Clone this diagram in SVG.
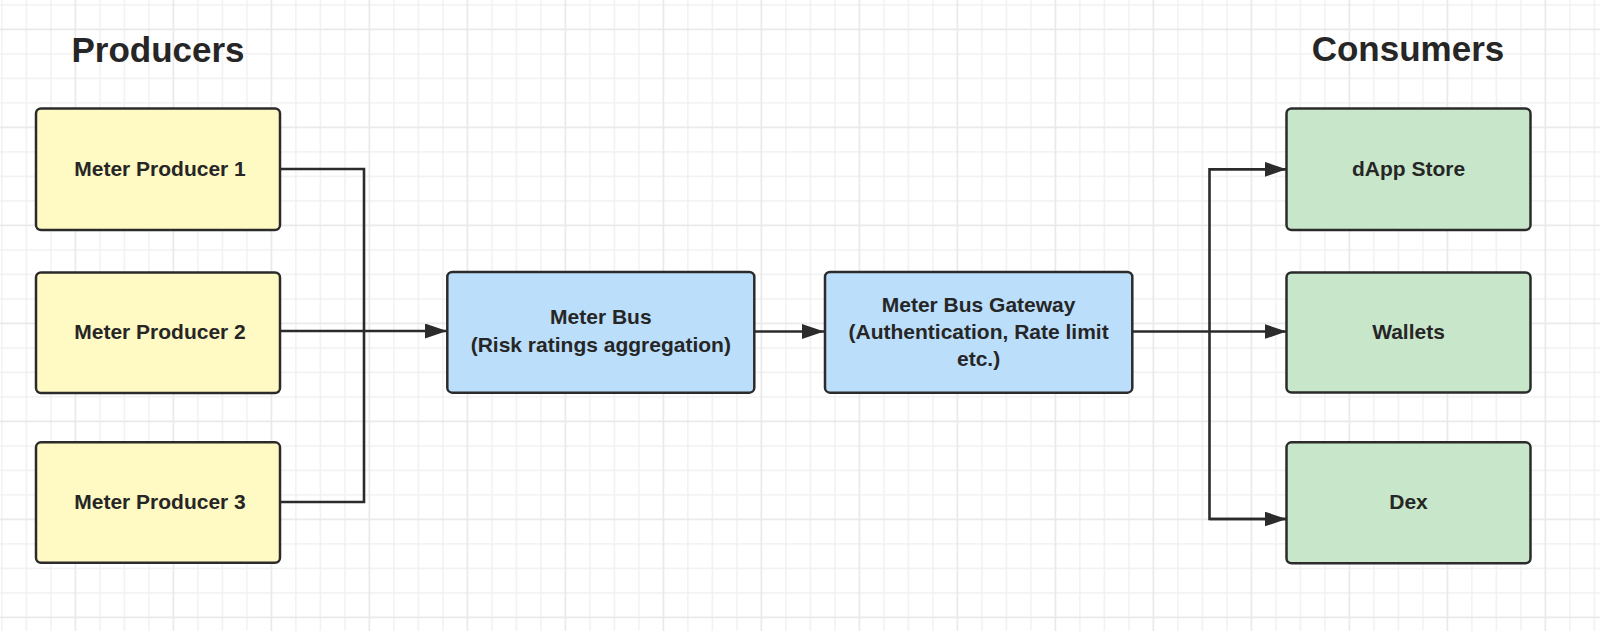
<svg xmlns="http://www.w3.org/2000/svg" width="1600" height="631" viewBox="0 0 1600 631">
  <defs>
    <pattern id="grid" x="1.2" y="4.2" width="98" height="98" patternUnits="userSpaceOnUse">
      <rect x="0" y="0" width="1.4" height="98" fill="#f0f0f0"/>
      <rect x="24.5" y="0" width="1.4" height="98" fill="#f0f0f0"/>
      <rect x="49" y="0" width="1.4" height="98" fill="#f0f0f0"/>
      <rect x="0" y="0" width="98" height="1.4" fill="#f0f0f0"/>
      <rect x="0" y="49" width="98" height="1.4" fill="#f0f0f0"/>
      <rect x="0" y="73.5" width="98" height="1.4" fill="#f0f0f0"/>
      <rect x="73.5" y="0" width="1.6" height="98" fill="#e8e8e8"/>
      <rect x="0" y="24.5" width="98" height="1.6" fill="#e8e8e8"/>
    </pattern>
    <marker id="arrow" markerUnits="userSpaceOnUse" markerWidth="22" markerHeight="15" refX="22" refY="7.5" orient="auto">
      <path d="M0,0 L22,7.5 L0,15 Z" fill="#2b2b2b"/>
    </marker>
  </defs>
  <style>
    .node rect { stroke: #2b2b2b; stroke-width: 2.5; }
    .producer rect { fill: #fff9c4; }
    .bus rect { fill: #bbdefb; }
    .consumer rect { fill: #c8e6c9; }
    text { font-family: "Liberation Sans", Arial, sans-serif; font-weight: bold; fill: #262626; text-anchor: middle; }
    .label { font-size: 21px; }
    .heading { font-size: 35px; }
    .conn { fill: none; stroke: #2b2b2b; stroke-width: 2.6; }
  </style>
  <rect x="0" y="0" width="1600" height="631" fill="#ffffff"/>
  <rect x="0" y="0" width="1600" height="631" fill="url(#grid)"/>

  <g id="headings">
    <text class="heading" x="158" y="61.5">Producers</text>
    <text class="heading" x="1408" y="61">Consumers</text>
  </g>

  <g id="connectors">
    <polyline class="conn" points="280,169 364,169 364,502 280,502"/>
    <line class="conn" x1="280" y1="331" x2="447" y2="331" marker-end="url(#arrow)"/>
    <line class="conn" x1="754" y1="331.5" x2="824" y2="331.5" marker-end="url(#arrow)"/>
    <line class="conn" x1="1132" y1="331.5" x2="1286.5" y2="331.5" marker-end="url(#arrow)"/>
    <polyline class="conn" points="1286.5,169.3 1209.5,169.3 1209.5,519 1286.5,519"/>
    <line class="conn" x1="1209.5" y1="169.3" x2="1286.5" y2="169.3" marker-end="url(#arrow)"/>
    <line class="conn" x1="1209.5" y1="519" x2="1286.5" y2="519" marker-end="url(#arrow)"/>
  </g>

  <g id="producer1" class="node producer">
    <rect x="36" y="108.5" width="244" height="121.5" rx="5"/>
    <text class="label" x="160" y="175.7">Meter Producer 1</text>
  </g>
  <g id="producer2" class="node producer">
    <rect x="36" y="272.5" width="244" height="120.5" rx="5"/>
    <text class="label" x="160" y="339.3">Meter Producer 2</text>
  </g>
  <g id="producer3" class="node producer">
    <rect x="36" y="442.3" width="244" height="120.5" rx="5"/>
    <text class="label" x="160" y="509.3">Meter Producer 3</text>
  </g>

  <g id="meterBus" class="node bus">
    <rect x="447.3" y="272" width="307" height="120.7" rx="5"/>
    <text class="label" x="600.8" y="324.3">Meter Bus</text>
    <text class="label" x="600.8" y="351.7">(Risk ratings aggregation)</text>
  </g>

  <g id="gateway" class="node bus">
    <rect x="825" y="272" width="307.3" height="120.7" rx="5"/>
    <text class="label" x="978.6" y="312.3">Meter Bus Gateway</text>
    <text class="label" x="978.6" y="338.7">(Authentication, Rate limit</text>
    <text class="label" x="978.6" y="366">etc.)</text>
  </g>

  <g id="dappStore" class="node consumer">
    <rect x="1286.5" y="108.5" width="244" height="121.5" rx="5"/>
    <text class="label" x="1408.5" y="175.7">dApp Store</text>
  </g>
  <g id="wallets" class="node consumer">
    <rect x="1286.5" y="272.5" width="244" height="120" rx="5"/>
    <text class="label" x="1408.5" y="339.3">Wallets</text>
  </g>
  <g id="dex" class="node consumer">
    <rect x="1286.5" y="442.3" width="244" height="121" rx="5"/>
    <text class="label" x="1408.5" y="509">Dex</text>
  </g>
</svg>
